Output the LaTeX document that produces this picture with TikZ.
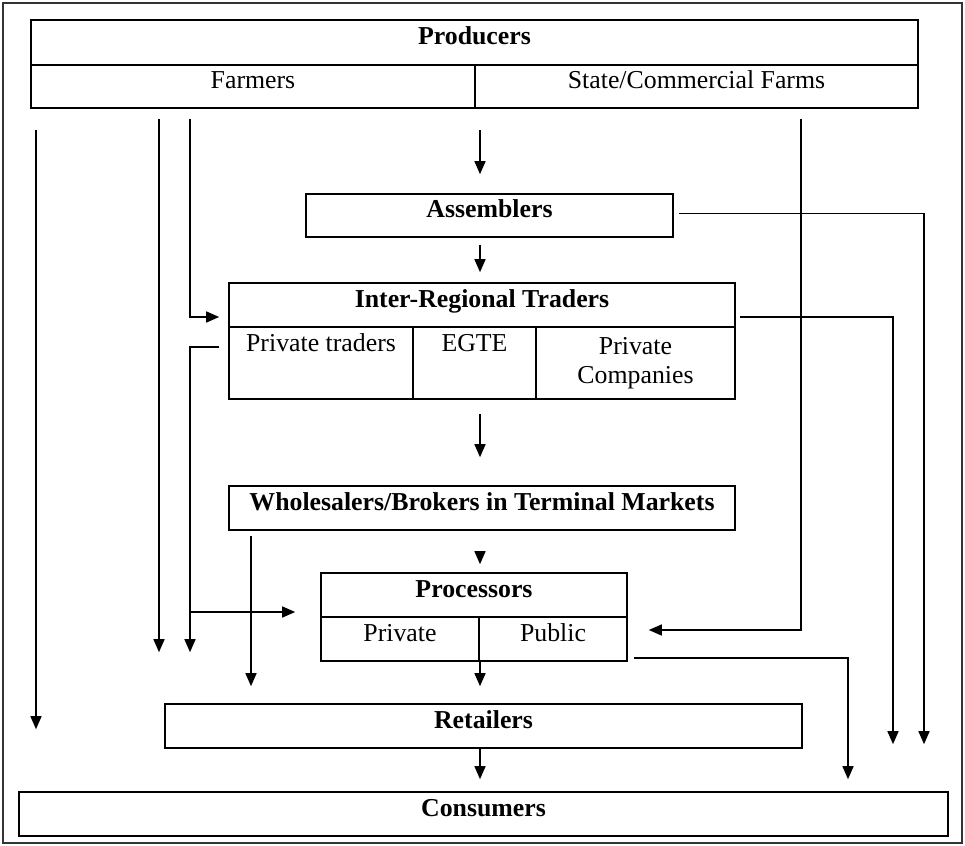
\documentclass[tikz,border=0pt]{standalone}
\usepackage{fontspec}
\setmainfont{Liberation Serif}
\usetikzlibrary{arrows.meta}

\begin{document}
\begin{tikzpicture}[x=1pt, y=-1pt,
    txt/.style={font=\fontsize{25.8}{30}\selectfont},
    box/.style={txt, draw, line width=1.6pt, inner sep=0pt, minimum height=44pt, text height=0.7em, text depth=0.3em, font=\fontsize{25.8}{30}\selectfont\bfseries},
    cell/.style={txt, draw, line width=1.6pt, inner sep=0pt, minimum height=44pt, text height=0.7em, text depth=0.3em},
    tallcell/.style={txt, draw, line width=1.6pt, inner sep=0pt, minimum height=72pt, align=center},
    flow/.style={line width=1.5pt, -{Triangle[length=13pt, width=11pt]}}]
    \useasboundingbox (0,0) rectangle (965,845);

    % Outer frame
    \draw[line width=1.6pt, black!80] (3,3) rectangle (962,843);

    % Producers and its two parts
    \node[box, minimum width=887pt, minimum height=45pt] (prod) at (474.5,42.5) {Producers};
    \node[cell, minimum width=444pt, minimum height=43pt] (farm) at (253,86.5) {Farmers};
    \node[cell, minimum width=443pt, minimum height=43pt] (state) at (696.5,86.5) {State/Commercial Farms};

    % Assemblers
    \node[box, minimum width=367pt, minimum height=43pt] (asm) at (489.5,215.5) {Assemblers};

    % Inter-regional traders and its three parts
    \node[box, minimum width=506pt] (irt) at (482,305) {Inter-Regional Traders};
    \node[tallcell, minimum width=184pt] (pt) at (321,363) {Private traders\\[10pt]~};
    \node[tallcell, minimum width=123pt] (egte) at (474.5,363) {EGTE\\[10pt]~};
    \node[tallcell, minimum width=199pt] (pc) at (635.5,363) {Private\\[-1pt]Companies};

    % Wholesalers
    \node[box, minimum width=506pt] (whl) at (482,508) {Wholesalers/Brokers in Terminal Markets};

    % Processors and its two parts
    \node[box, minimum width=306pt] (proc) at (474,595) {Processors};
    \node[cell, minimum width=158pt] (priv) at (400,639) {Private};
    \node[cell, minimum width=148pt] (pub) at (553,639) {Public};

    % Retailers and consumers
    \node[box, minimum width=637pt] (ret) at (483.5,726) {Retailers};
    \node[box, minimum width=929pt] (cons) at (483.5,814) {Consumers};

    % Lanes of the connectors
    \coordinate (l1) at (36,0);
    \coordinate (l2) at (159,0);
    \coordinate (l3) at (190,0);
    \coordinate (l4) at (251,0);
    \coordinate (axis) at (480,0);
    \coordinate (r1) at (801,0);
    \coordinate (r2) at (848,0);
    \coordinate (r3) at (893,0);
    \coordinate (r4) at (924,0);
    \coordinate (b1) at ([yshift=-17pt]proc.west);

    % Main chain down the middle
    \draw[flow, shorten <=21pt, shorten >=19pt] (farm.south -| axis) -- (asm.north -| axis);
    \draw[flow, shorten <=7pt, shorten >=10pt] (asm.south -| axis) -- (irt.north -| axis);
    \draw[flow, shorten <=14pt, shorten >=28pt] (egte.south -| axis) -- (whl.north -| axis);
    \draw[flow, shorten <=22pt, shorten >=8pt] (whl.south -| axis) -- (proc.north -| axis);
    \draw[flow, shorten >=17pt] (priv.south -| axis) -- (ret.north -| axis);
    \draw[flow, shorten >=12pt] (ret.south -| axis) -- (cons.north -| axis);

    % Farmers on the left
    \draw[flow, shorten <=21pt, shorten >=62pt] (farm.south -| l1) -- (cons.north -| l1);
    \draw[flow, shorten <=10pt, shorten >=51pt] (farm.south -| l2) -- (ret.north -| l2);
    \draw[flow, shorten <=10pt, shorten >=9pt] (farm.south -| l3) |- ([yshift=-12pt]irt.west);

    % Private traders on the left
    \draw[flow, shorten <=9pt, shorten >=51pt] ([yshift=16pt]pt.west) -| (ret.north -| l3);
    \draw[flow, shorten >=25pt] (b1 -| l3) -- (b1);

    % Wholesalers straight to retailers
    \draw[flow, shorten <=5pt, shorten >=17pt] (whl.south -| l4) -- (ret.north -| l4);

    % Right hand side
    \draw[flow, shorten <=10pt, shorten >=21pt] (state.south -| r1) |- ([yshift=9pt]pub.east);
    \draw[flow, shorten <=6pt, shorten >=12pt] ([yshift=4pt]pub.south east) -| (cons.north -| r2);
    \draw[flow, shorten <=4pt, shorten >=47pt] ([yshift=-12pt]irt.east) -| (cons.north -| r3);
    \draw[flow, shorten <=5pt, shorten >=47pt] ([yshift=2pt]asm.east) -| (cons.north -| r4);

\end{tikzpicture}
\end{document}
